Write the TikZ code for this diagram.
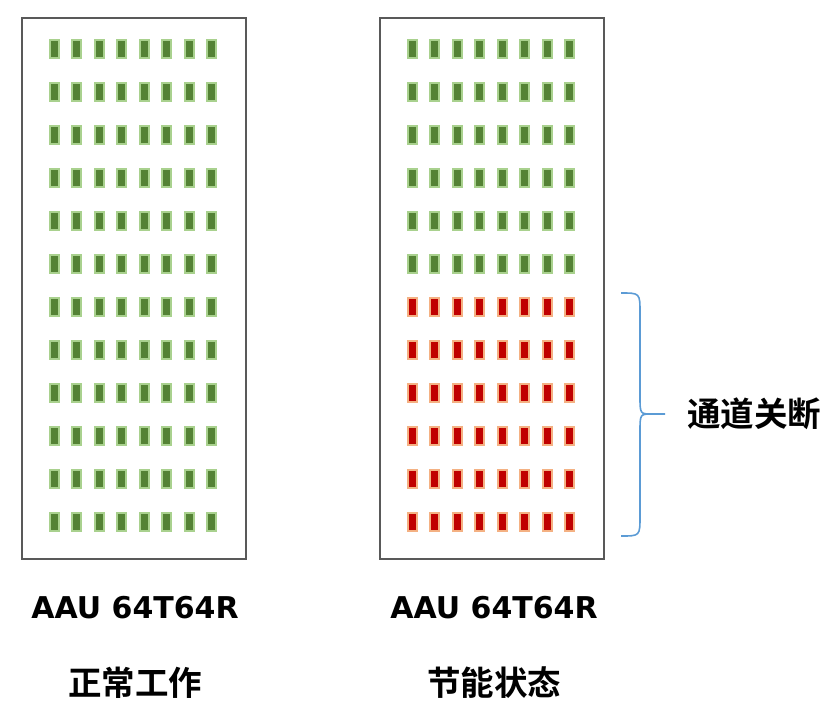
\documentclass[tikz,border=0pt]{standalone}
\usepackage{fontspec}
\setmainfont{Noto Sans CJK SC}[BoldFont={* Bold}]
\newfontfamily\cjkbold{Noto Sans CJK SC Bold}
\newfontfamily\latinbold{DejaVu Sans}[BoldFont={* Bold}]
\definecolor{boxgray}{HTML}{595959}
\definecolor{gdark}{HTML}{548235}
\definecolor{glight}{HTML}{A9D18E}
\definecolor{rdark}{HTML}{C00000}
\definecolor{rlight}{HTML}{F4B183}
\definecolor{braceblue}{HTML}{5B9BD5}
\tikzset{
  panel/.style={draw=boxgray, line width=2pt, fill=white, minimum width=224pt, minimum height=541pt, inner sep=0pt},
  antgreen/.style={fill=gdark, draw=glight, line width=2pt, minimum width=9pt, minimum height=18pt, inner sep=0pt},
  antred/.style={fill=rdark, draw=rlight, line width=2pt, minimum width=9pt, minimum height=18pt, inner sep=0pt},
  lbl/.style={font=\latinbold\bfseries\fontsize{30}{34}\selectfont, inner sep=0pt},
  cjklbl/.style={font=\cjkbold\fontsize{33.5}{37}\selectfont, inner sep=0pt},
  bracestyle/.style={draw=braceblue, line width=1.6pt}
}
\begin{document}
\begin{tikzpicture}[x=1pt,y=-1pt]
\useasboundingbox (0,0) rectangle (828,724);
\node[panel] (boxL) at (133.5,288.5) {};
\node[panel] (boxR) at (491.5,288.5) {};
\foreach \r in {0,...,11}{
  \foreach \c in {0,...,7}{
    \node[antgreen] (L-\r-\c) at ({54+22.5*\c},{49+43*\r}) {};
    \ifnum\r<6
      \node[antgreen] (R-\r-\c) at ({412+22.5*\c},{49+43*\r}) {};
    \else
      \node[antred] (R-\r-\c) at ({412+22.5*\c},{49+43*\r}) {};
    \fi
  }
}
\coordinate (bt) at (621,293);
\coordinate (bb) at (621,536);
\coordinate (tip) at (665,414);
\draw[bracestyle] (bt) .. controls (640,293) .. (640,313) -- (640,396)
  .. controls (640,414) .. (652,414) -- (tip);
\draw[bracestyle] (bb) .. controls (640,536) .. (640,516) -- (640,432)
  .. controls (640,414) .. (652,414);
\node[cjklbl, anchor=west] (off) at (687,414) {通道关断};
\node[lbl] (aauL) at (135,608) {AAU 64T64R};
\node[lbl] (aauR) at (494,608) {AAU 64T64R};
\node[cjklbl] (normal) at (135,683) {正常工作};
\node[cjklbl] (save) at (494,683) {节能状态};
\end{tikzpicture}
\end{document}
